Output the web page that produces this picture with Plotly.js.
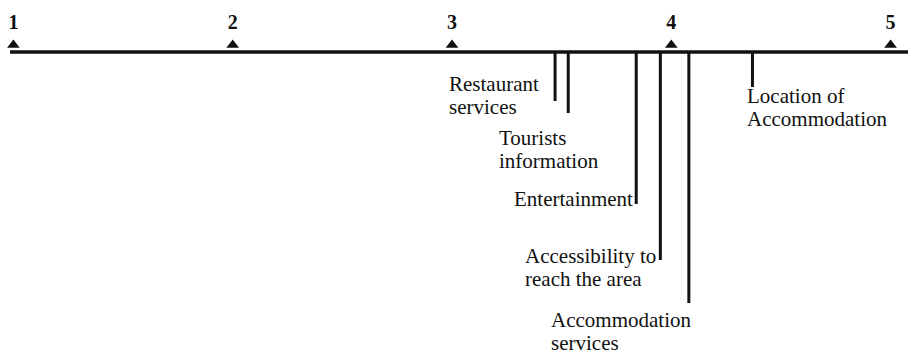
<!DOCTYPE html>
<html>
<head>
<meta charset="utf-8">
<script src="https://cdn.plot.ly/plotly-3.0.1.min.js"></script>
<style>
  html, body { margin: 0; padding: 0; background: #fff; }
  #chart { width: 911px; height: 355px; }
</style>
</head>
<body>
<div id="chart"></div>
<script>
// scale points
const scaleTicks = [1, 2, 3, 4, 5];
const tickLabels = ["1", "2", "3", "4", "5"];

// attributes and their mean scores
const attributes = [
  "Restaurant\nservices",
  "Tourists\ninformation",
  "Entertainment",
  "Accessibility to\nreach the area",
  "Accommodation\nservices",
  "Location of\nAccommodation"
];
const meanScores = [3.47, 3.53, 3.84, 3.95, 4.08, 4.37];

// layout only (pixels): how far each drop line hangs, where its label sits
const dropDepth = [49, 61, 152, 208, 251, 35];
const labelShift = [-108, -71, -1, -137, -140, -7];
const labelAnchor = ["left", "left", "right", "left", "left", "left"];
const labelTop = [-32, -86, -147, -204, -268, -44];
const lineGap = 23;

const ink = "#111";
const serif = "Liberation Serif, Times New Roman, serif";

// drop lines
const dropX = [], dropY = [];
meanScores.forEach((v, i) => {
  dropX.push(v, v, null);
  dropY.push(0, -dropDepth[i], null);
});

const drops = {
  x: dropX,
  y: dropY,
  mode: "lines",
  line: { color: ink, width: 3 },
  hoverinfo: "skip",
};

const markers = {
  x: scaleTicks,
  y: scaleTicks.map(() => 7),
  mode: "markers",
  marker: { symbol: "triangle-up", size: 11, color: ink },
  hoverinfo: "skip",
};

const numbers = {
  x: scaleTicks,
  y: scaleTicks.map(() => 28),
  mode: "text",
  text: tickLabels,
  textposition: "middle center",
  textfont: { family: serif, size: 20, color: ink, weight: "bold" },
  hoverinfo: "skip",
};

// labels, one annotation per text line
const annotations = [];
attributes.forEach((name, i) => {
  name.split("\n").forEach((part, k) => {
    annotations.push({
      xref: "x", yref: "y",
      x: meanScores[i],
      y: labelTop[i] - k * lineGap,
      xanchor: labelAnchor[i],
      yanchor: "middle",
      xshift: labelShift[i],
      text: part,
      showarrow: false,
      font: { family: serif, size: 21, color: ink },
    });
  });
});

const layout = {
  width: 911,
  height: 355,
  margin: { t: 0, r: 0, b: 0, l: 0 },
  paper_bgcolor: "#fff",
  plot_bgcolor: "#fff",
  showlegend: false,
  xaxis: { range: [0.9389, 5.093], visible: false, fixedrange: true },
  yaxis: { range: [-303, 52], visible: false, fixedrange: true },
  shapes: [{
    type: "line", xref: "paper", yref: "y",
    x0: 10 / 911, x1: 908 / 911, y0: 0, y1: 0,
    line: { color: ink, width: 3.5 },
  }],
  annotations: annotations,
};

Plotly.newPlot("chart", [drops, markers, numbers], layout, { staticPlot: true });
</script>
</body>
</html>
